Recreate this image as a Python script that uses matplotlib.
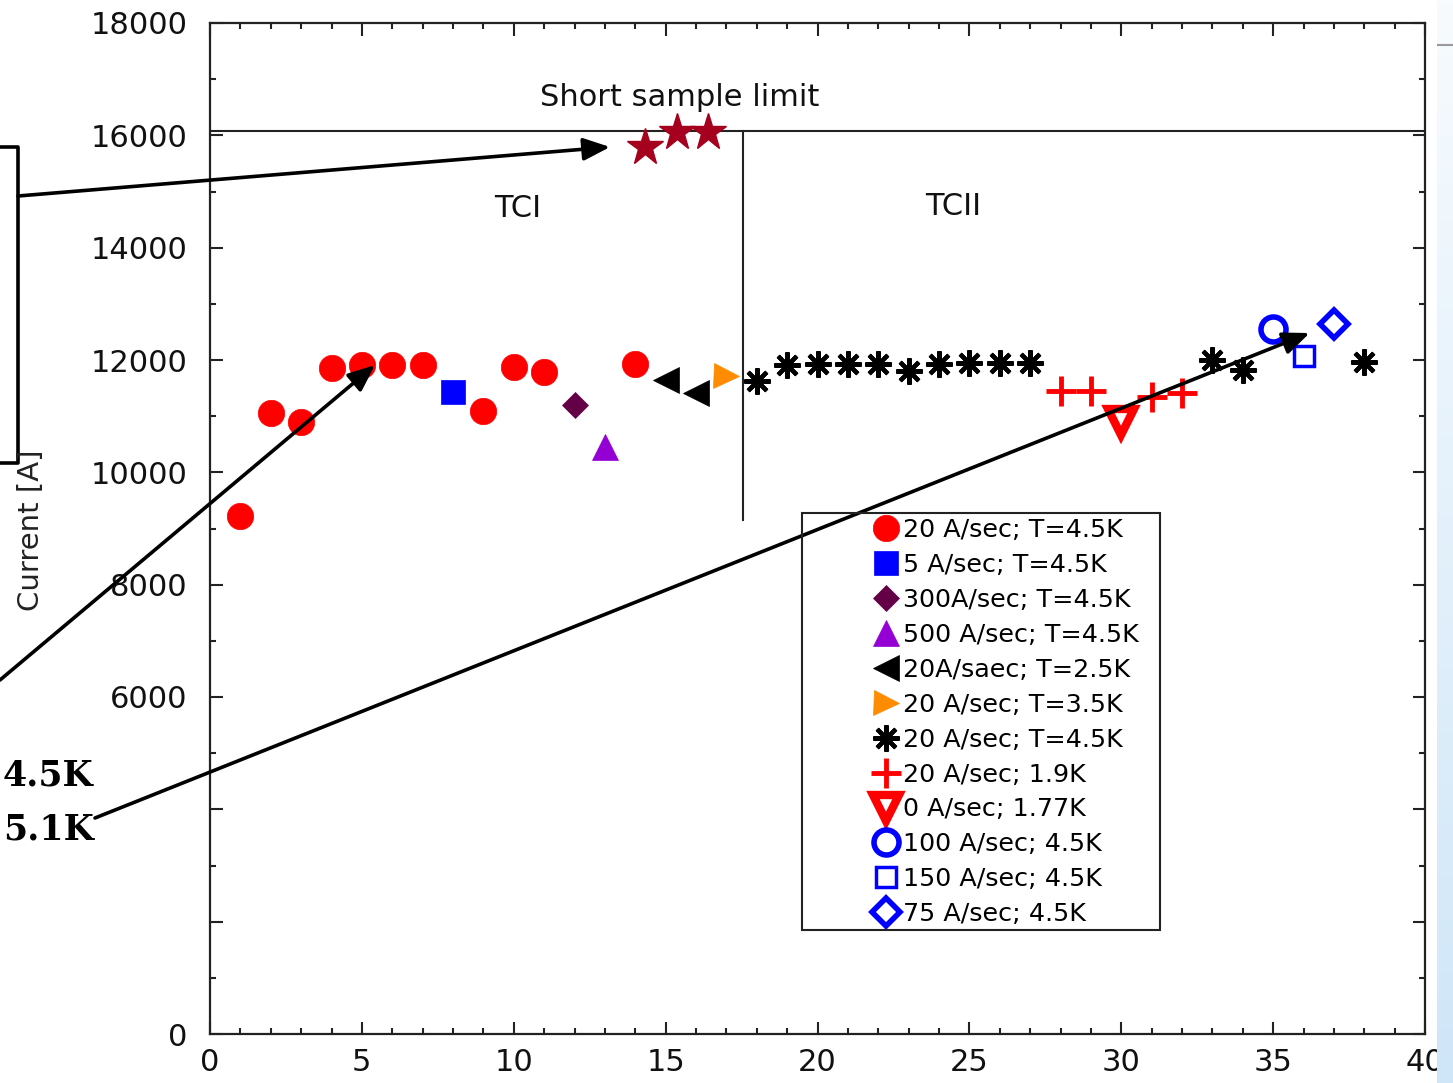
import numpy as np
import matplotlib
matplotlib.use("Agg")
import matplotlib.pyplot as plt
from matplotlib.lines import Line2D
from matplotlib.patches import Rectangle
from matplotlib.colors import LinearSegmentedColormap

# ---- data -------------------------------------------------------------
red_x = [1, 2, 3, 4, 5, 6, 7, 9, 10, 11, 14]
red_y = [9222, 11052, 10890, 11851, 11910, 11910, 11910, 11092, 11869, 11791, 11923]

sq5_x = [8]
sq5_y = [11435]

dia300_x = [12]
dia300_y = [11198]

tri500_x = [13]
tri500_y = [10445]

left25_x = [15, 16]
left25_y = [11643, 11412]

right35_x = [17]
right35_y = [11714]

ast_x = [18, 19, 20, 21, 22, 23, 24, 25, 26, 27, 33, 34, 38]
ast_y = [11625, 11910, 11920, 11920, 11920, 11804, 11920, 11940, 11940, 11950, 11999, 11821, 11970]

plus_x = [28, 29, 31, 32]
plus_y = [11453, 11453, 11346, 11406]

vtri_x = [30]
vtri_y = [10890]

ocirc_x = [35]
ocirc_y = [12546]

osq_x = [36]
osq_y = [12070]

odia_x = [37]
odia_y = [12640]

star_x = [14.32, 15.36, 16.38]
star_y = [15791, 16060, 16060]

short_sample_limit = 16080
tc_boundary_x = 17.55
tc_boundary_ymin = 9150

legend_labels = [
    "20 A/sec; T=4.5K",
    "5 A/sec; T=4.5K",
    "300A/sec; T=4.5K",
    "500 A/sec; T=4.5K",
    "20A/saec; T=2.5K",
    "20 A/sec; T=3.5K",
    "20 A/sec; T=4.5K",
    "20 A/sec; 1.9K",
    "0 A/sec; 1.77K",
    "100 A/sec; 4.5K",
    "150 A/sec; 4.5K",
    "75 A/sec; 4.5K",
]

x_ticks = [0, 5, 10, 15, 20, 25, 30, 35, 40]
y_ticks = [0, 2000, 4000, 6000, 8000, 10000, 12000, 14000, 16000, 18000]
y_ticklabels = ["0", "", "", "6000", "8000", "10000", "12000", "14000", "16000", "18000"]

# ---- figure -----------------------------------------------------------
W, H = 1453, 1083
fig = plt.figure(figsize=(W / 100, H / 100), dpi=100)
ax = fig.add_axes([210 / W, 1 - 1034 / H, (1425 - 210) / W, (1034 - 23) / H])
ax.set_xlim(0, 40)
ax.set_ylim(0, 18000)

RED = "#ff0000"
BLUE = "#0000ff"

handles = []
handles.append(ax.plot(red_x, red_y, ls="none", marker="o", ms=19, mfc=RED, mec=RED, mew=0.5)[0])
handles.append(ax.plot(sq5_x, sq5_y, ls="none", marker="s", ms=17, mfc=BLUE, mec=BLUE, mew=0.5)[0])
handles.append(ax.plot(dia300_x, dia300_y, ls="none", marker="D", ms=13, mfc="#640046", mec="#640046", mew=0.5)[0])
handles.append(ax.plot(tri500_x, tri500_y, ls="none", marker="^", ms=19, mfc="#9400d3", mec="#9400d3", mew=0.5)[0])
handles.append(ax.plot(left25_x, left25_y, ls="none", marker="<", ms=19, mfc="black", mec="black", mew=0.5)[0])
handles.append(ax.plot(right35_x, right35_y, ls="none", marker=">", ms=18, mfc="#ff8c00", mec="#ff8c00", mew=0.5)[0])
handles.append(ax.plot(ast_x, ast_y, ls="none", marker=(8, 2, 0), ms=19, mec="black", mew=3)[0])
handles.append(ax.plot(plus_x, plus_y, ls="none", marker="+", ms=21, mec=RED, mew=3.5)[0])
handles.append(ax.plot(vtri_x, vtri_y, ls="none", marker="v", ms=19, mfc="white", mec=RED, mew=6)[0])
handles.append(ax.plot(ocirc_x, ocirc_y, ls="none", marker="o", ms=18, mfc="white", mec=BLUE, mew=4)[0])
handles.append(ax.plot(osq_x, osq_y, ls="none", marker="s", ms=15, mfc="white", mec=BLUE, mew=2.5)[0])
handles.append(ax.plot(odia_x, odia_y, ls="none", marker="D", ms=14, mfc="white", mec=BLUE, mew=4)[0])

ax.plot(star_x, star_y, ls="none", marker="*", ms=28, mfc="#a5001e", mec="#a5001e", zorder=5)

# short sample limit and TC boundary
ax.axhline(short_sample_limit, color="#222222", lw=1.5, zorder=1)
ax.plot([tc_boundary_x, tc_boundary_x], [tc_boundary_ymin, short_sample_limit],
        color="#222222", lw=1.5, zorder=1)

ax.text(15.46, 16680, "Short sample limit", fontsize=22, ha="center", va="center", color="#111111")
ax.text(10.14, 14705, "TCI", fontsize=22, ha="center", va="center", color="#111111")
ax.text(24.46, 14741, "TCII", fontsize=22, ha="center", va="center", color="#111111")

# ticks and spines
ax.set_xticks(x_ticks)
ax.set_xticks(np.arange(0, 41, 1), minor=True)
ax.set_yticks(y_ticks)
ax.set_yticklabels(y_ticklabels)
ax.set_yticks(np.arange(0, 18001, 1000), minor=True)
ax.tick_params(which="both", direction="in", top=True, right=True, width=1.5, color="#222222")
ax.tick_params(which="major", length=9, labelsize=22, labelcolor="#111111")
ax.tick_params(which="minor", length=4.5)
ax.tick_params(axis="y", which="major", pad=16)
ax.tick_params(axis="x", which="major", pad=10)
for sp in ax.spines.values():
    sp.set_linewidth(1.6)
    sp.set_color("#222222")

fig.text(31 / W, 1 - 530 / H, "Current [A]", rotation=90, fontsize=21,
         ha="center", va="center", color="#222222")

# legend: frame drawn separately, entries placed inside it
ax.add_patch(Rectangle((592 / 1215, 104 / 1011), 358 / 1215, 417 / 1011,
                       transform=ax.transAxes, fill=False, ec="#222222", lw=1.5, zorder=6))
leg = ax.legend(handles, legend_labels, loc="upper left",
                bbox_to_anchor=((873.5 - 210) / 1215, (1034 - 518) / 1011),
                frameon=False, fontsize=18.3, handlelength=1.0, handletextpad=0.15,
                borderpad=0.0, borderaxespad=0.0, labelspacing=0.43, numpoints=1)

# call-out box and arrows
lw_ann = 2.6
fig.add_artist(Line2D([0, 18 / W, 18 / W, 0], [1 - 147 / H, 1 - 147 / H, 1 - 463 / H, 1 - 463 / H],
                      transform=fig.transFigure, color="black", lw=lw_ann))

arrow_kw = dict(arrowstyle="-|>,head_length=0.9,head_width=0.38", color="black",
                lw=lw_ann, shrinkA=0, shrinkB=0, mutation_scale=18)
ax.annotate("", xy=(13.17, 15792), xycoords="data",
            xytext=(18 / W, 1 - 196 / H), textcoords="figure fraction",
            arrowprops=arrow_kw, annotation_clip=False)
ax.annotate("", xy=(5.43, 11910), xycoords="data",
            xytext=(0, 1 - 680 / H), textcoords="figure fraction",
            arrowprops=arrow_kw, annotation_clip=False)
ax.annotate("", xy=(36.2, 12480), xycoords="data",
            xytext=(95 / W, 1 - 818 / H), textcoords="figure fraction",
            arrowprops=arrow_kw, annotation_clip=False)

fig.text(3 / W, 1 - 775 / H, "4.5K", fontsize=25, fontweight="bold", family="DejaVu Serif",
         ha="left", va="center")
fig.text(3 / W, 1 - 830 / H, "5.1K", fontsize=25, fontweight="bold", family="DejaVu Serif",
         ha="left", va="center")

# light blue strip on the right edge
band = fig.add_axes([1437 / W, 0, (W - 1437) / W, 1])
grad = np.linspace(0, 1, 256).reshape(-1, 1)
cmap = LinearSegmentedColormap.from_list("edge", ["#f7fbfe", "#cfe6f8"])
band.imshow(grad, aspect="auto", cmap=cmap, extent=[0, 1, 0, 1], origin="upper")
band.plot([0, 1], [1 - 45 / H, 1 - 45 / H], color="#9a9a9a", lw=1.5)
band.set_xlim(0, 1)
band.set_ylim(0, 1)
band.axis("off")

fig.savefig("out.png", dpi=100)
